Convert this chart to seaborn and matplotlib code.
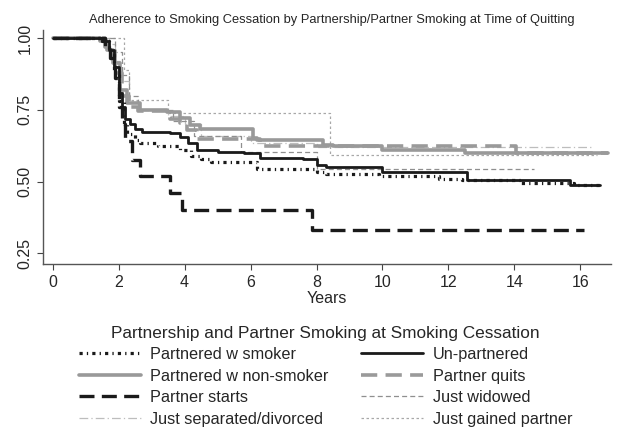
import matplotlib
matplotlib.use("Agg")
import matplotlib.pyplot as plt
import seaborn as sns
import pandas as pd

# 생존곡선 값
smoker_t = [0, 1.5, 1.7, 1.85, 2.0, 2.15, 2.25, 2.5, 2.65, 3.2, 3.87, 4.2, 4.5, 4.8, 6.2, 8.0, 8.3, 9.9, 11.7, 12.4, 14.2, 15.8, 16.7]
smoker_v = [1, 0.99, 0.95, 0.88, 0.78, 0.70, 0.665, 0.645, 0.635, 0.625, 0.61, 0.59, 0.58, 0.57, 0.545, 0.535, 0.527, 0.52, 0.51, 0.505, 0.496, 0.49, 0.49]

unpart_t = [0, 1.5, 1.7, 1.85, 2.0, 2.1, 2.2, 2.35, 2.5, 2.7, 3.56, 3.87, 4.1, 4.37, 5.0, 5.8, 6.3, 7.6, 8.0, 8.3, 10.0, 12.55, 15.7, 16.6]
unpart_v = [1, 0.99, 0.96, 0.9, 0.81, 0.76, 0.72, 0.70, 0.685, 0.673, 0.67, 0.657, 0.635, 0.61, 0.605, 0.60, 0.584, 0.58, 0.558, 0.55, 0.533, 0.506, 0.49, 0.49]

nonsmk_t = [0, 1.45, 1.65, 1.84, 2.04, 2.25, 2.65, 3.47, 3.86, 4.17, 4.47, 5.7, 6.08, 6.2, 7.7, 8.2, 8.5, 10.0, 12.5, 16.85]
nonsmk_v = [1, 0.99, 0.96, 0.914, 0.82, 0.775, 0.75, 0.744, 0.722, 0.698, 0.685, 0.684, 0.652, 0.646, 0.644, 0.628, 0.625, 0.61, 0.60, 0.60]

quits_t = [0, 1.6, 1.9, 2.1, 2.3, 2.6, 3.56, 3.87, 4.07, 4.37, 6.3, 14.05, 16.85]
quits_v = [1, 0.97, 0.88, 0.80, 0.76, 0.745, 0.72, 0.705, 0.68, 0.648, 0.625, 0.60, 0.60]

starts_t = [0, 1.6, 1.75, 1.9, 2.0, 2.1, 2.2, 2.42, 2.65, 3.57, 3.92, 7.87, 16.1]
starts_v = [1, 0.97, 0.93, 0.86, 0.76, 0.70, 0.64, 0.576, 0.52, 0.46, 0.40, 0.333, 0.333]

widow_t = [0, 1.9, 2.1, 2.3, 2.6, 3.65, 4.3, 5.7, 8.0, 14.6]
widow_v = [1, 0.95, 0.87, 0.80, 0.75, 0.71, 0.66, 0.605, 0.545, 0.545]

divorce_t = [0, 1.7, 1.9, 2.1, 2.3, 2.6, 3.5, 4.0, 4.5, 6.0, 8.0, 16.4]
divorce_v = [1, 0.98, 0.92, 0.85, 0.78, 0.75, 0.73, 0.70, 0.66, 0.635, 0.622, 0.622]

gained_t = [0, 2.15, 2.3, 3.5, 8.4, 16.5]
gained_v = [1, 0.89, 0.785, 0.74, 0.594, 0.594]

sns.set_style("ticks")
plt.rcParams['font.family'] = ['Liberation Sans', 'DejaVu Sans']

fig = plt.figure(figsize=(6.2, 4.34), dpi=100)
ax = fig.add_axes([0.069, 0.392, 0.916, 0.54])

# (이름, t, v, 색, 두께, 선 모양)
series = [
    ('Partnered w smoker', smoker_t, smoker_v, '#1a1a1a', 2.3, (0, (1.0, 1.3, 0.4, 1.3))),
    ('Partnered w non-smoker', nonsmk_t, nonsmk_v, '#999999', 2.6, '-'),
    ('Partner starts', starts_t, starts_v, '#1a1a1a', 2.4, (0, (4.5, 2.2))),
    ('Just separated/divorced', divorce_t, divorce_v, '#bdbdbd', 0.9, (0, (7, 2.5, 1, 2.5))),
    ('Un-partnered', unpart_t, unpart_v, '#1a1a1a', 2.0, '-'),
    ('Partner quits', quits_t, quits_v, '#9a9a9a', 2.6, (0, (4.5, 2.3))),
    ('Just widowed', widow_t, widow_v, '#8f8f8f', 0.9, (0, (4, 2.5))),
    ('Just gained partner', gained_t, gained_v, '#a8a8a8', 0.9, (0, (2, 2))),
]

# 그리는 순서 (얇은 선은 뒤쪽)
draw_order = [3, 7, 6, 1, 5, 4, 0, 2]
handles = {}
for i in draw_order:
    name, t, v, c, lw, ls = series[i]
    df = pd.DataFrame({'t': t, 'v': v})
    sns.lineplot(data=df, x='t', y='v', ax=ax, color=c, linewidth=lw, linestyle=ls,
                 drawstyle='steps-post', estimator=None, label=name)
    handles[name] = ax.lines[-1]

ax.set_xlim(-0.3, 16.92)
ax.set_ylim(0.2136, 1.03)
ax.set_xticks(range(0, 17, 2))
ax.set_yticks([0.25, 0.50, 0.75, 1.00])
ax.set_yticklabels(['0.25', '0.50', '0.75', '1.00'], rotation=90, va='center')
ax.tick_params(labelsize=11.5, length=4, color='#444444')
ax.tick_params(axis='x', pad=4)
ax.set_xlabel('Years', fontsize=11.5, labelpad=1)
ax.set_ylabel('')
sns.despine(ax=ax)
for s in ['left', 'bottom']:
    ax.spines[s].set_color('#555555')
    ax.spines[s].set_linewidth(1.0)
ax.get_legend().remove()

fig.text(0.535, 0.953, 'Adherence to Smoking Cessation by Partnership/Partner Smoking at Time of Quitting',
         ha='center', va='center', fontsize=9.3)

names = [s[0] for s in series]
leg = fig.legend([handles[n] for n in names], names, loc='upper center', bbox_to_anchor=(0.525, 0.276),
                 ncol=2, frameon=False, fontsize=11.7, title='Partnership and Partner Smoking at Smoking Cessation',
                 title_fontsize=12.4, handlelength=3.8, handletextpad=0.6, columnspacing=2.0,
                 labelspacing=0.4, borderpad=0.2)

fig.savefig('out.png', dpi=100)
